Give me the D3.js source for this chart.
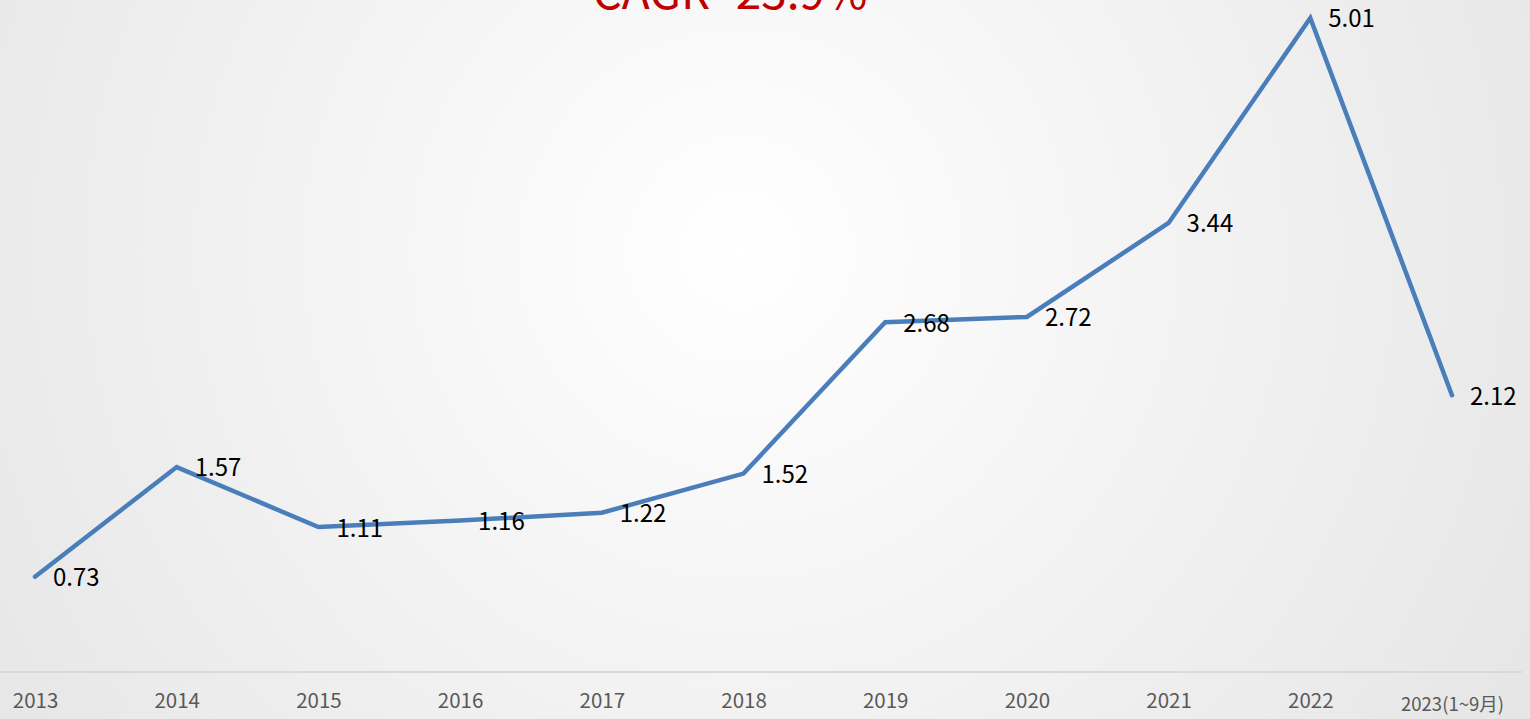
<!DOCTYPE html>
<html lang="zh-Hant">
<head>
    <meta charset="UTF-8">
    <title>CAGR Line Chart</title>
    <script src="https://cdn.jsdelivr.net/npm/d3@7"></script>
    <style>
        html, body { margin: 0; padding: 0; overflow: hidden; }
        svg { display: block; }
    </style>
</head>
<body>
    <div id="chart"></div>

    <script>
        // Data
        const years = ['2013', '2014', '2015', '2016', '2017', '2018', '2019', '2020', '2021', '2022', '2023(1~9月)'];
        const values = [0.73, 1.57, 1.11, 1.16, 1.22, 1.52, 2.68, 2.72, 3.44, 5.01, 2.12];
        const titleText = 'CAGR=23.9%';

        const width = 1530;
        const height = 719;
        const fontFamily = '"Noto Sans CJK TC", "Noto Sans", "Open Sans", sans-serif';

        const svg = d3.select('#chart')
            .append('svg')
            .attr('width', width)
            .attr('height', height);

        // Radial background like the slide
        const defs = svg.append('defs');
        const grad = defs.append('radialGradient')
            .attr('id', 'bg')
            .attr('gradientUnits', 'userSpaceOnUse')
            .attr('cx', 740).attr('cy', 250).attr('r', 900);
        grad.append('stop').attr('offset', '0%').attr('stop-color', '#ffffff');
        grad.append('stop').attr('offset', '100%').attr('stop-color', '#e6e6e6');

        svg.append('rect')
            .attr('width', width)
            .attr('height', height)
            .attr('fill', 'url(#bg)');

        // Scales
        const x = d3.scalePoint()
            .domain(years)
            .range([35, 1452]);

        const y = d3.scaleLinear()
            .domain([0, 5.01])
            .range([672, 18]);

        // Category axis
        const xAxis = d3.axisBottom(x).tickSize(0).tickPadding(18);
        const axisG = svg.append('g')
            .attr('transform', `translate(0, ${y(0)})`)
            .call(xAxis);

        axisG.select('.domain').remove();
        axisG.append('line')
            .attr('x1', 0)
            .attr('x2', 1522)
            .attr('stroke', '#d9d9d9')
            .attr('stroke-width', 2);

        axisG.selectAll('.tick text')
            .attr('fill', '#595959')
            .attr('font-family', fontFamily)
            .attr('font-size', '20.5px')
            .attr('dy', '0.32em')
            .attr('y', 29);

        axisG.selectAll('.tick')
            .filter(d => d === years[years.length - 1])
            .select('text')
            .attr('font-size', '18.5px')
            .attr('x', 0)
            .attr('y', 33);

        // Line
        const line = d3.line()
            .x((d, i) => x(years[i]))
            .y(d => y(d));

        svg.append('path')
            .datum(values)
            .attr('d', line)
            .attr('fill', 'none')
            .attr('stroke', '#4a7ebb')
            .attr('stroke-width', 4.5)
            .attr('stroke-linejoin', 'miter')
            .attr('stroke-linecap', 'round');

        // Data labels, placed to the right of each point
        svg.append('g')
            .selectAll('text')
            .data(values)
            .join('text')
            .attr('x', (d, i) => x(years[i]) + 18)
            .attr('y', d => y(d) + 1)
            .attr('dy', '0.35em')
            .attr('fill', '#000000')
            .attr('font-family', fontFamily)
            .attr('font-size', '24px')
            .text(d => d.toFixed(2));

        // Title, clipped at the top edge as in the slide
        svg.append('text')
            .attr('x', 730)
            .attr('y', 9)
            .attr('text-anchor', 'middle')
            .attr('fill', '#c00000')
            .attr('font-family', fontFamily)
            .attr('font-size', '46px')
            .text(titleText);
    </script>
</body>
</html>
